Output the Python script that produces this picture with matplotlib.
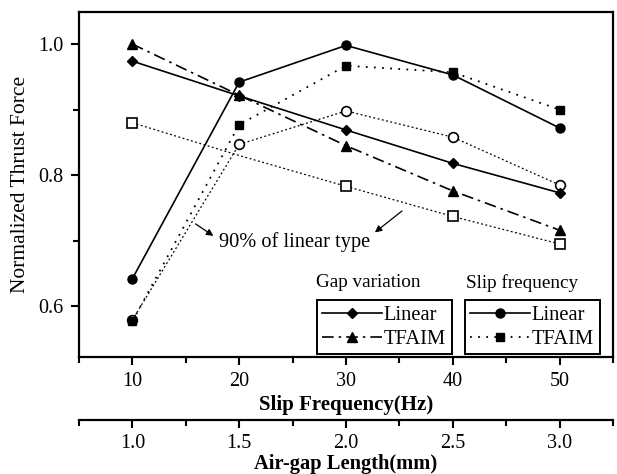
import matplotlib
matplotlib.use("Agg")
import matplotlib.pyplot as plt
from matplotlib.ticker import MultipleLocator

plt.rcParams['font.family'] = ['Liberation Serif', 'DejaVu Serif']
plt.rcParams['mathtext.fontset'] = 'stix'

slip_freq = [10, 20, 30, 40, 50]
gap_ticks = [1.0, 1.5, 2.0, 2.5, 3.0]

gap_linear = [0.974, 0.921, 0.869, 0.818, 0.773]
gap_tfaim = [1.000, 0.922, 0.845, 0.776, 0.716]
gap_linear90 = [0.880, 0.830, 0.783, 0.737, 0.695]

slip_linear = [0.642, 0.942, 0.998, 0.953, 0.872]
slip_tfaim = [0.577, 0.877, 0.967, 0.957, 0.900]
slip_linear90 = [0.579, 0.847, 0.898, 0.858, 0.785]

fig = plt.figure(figsize=(6.17, 4.74), dpi=100)
ax = fig.add_axes([0.128, 0.2475, 0.8655, 0.7272])

lw = 1.2
# 90% reference lines
ax.plot(slip_freq, gap_linear90, linestyle=(0, (1.5, 2)), color='black', lw=0.9,
        marker='s', mfc='white', mec='black', ms=6.5, mew=1.2, markevery=[0, 2, 3, 4])
ax.plot(slip_freq, slip_linear90, linestyle=(0, (1.5, 2)), color='black', lw=0.9,
        marker='o', mfc='white', mec='black', ms=7, mew=1.2)

l1, = ax.plot(slip_freq, gap_linear, '-', color='black', lw=lw, marker='D', ms=5.5, label='Linear')
l2, = ax.plot(slip_freq, gap_tfaim, linestyle=(0, (7, 3, 1.5, 3)), color='black', lw=lw,
              marker='^', ms=7, label='TFAIM')
l3, = ax.plot(slip_freq, slip_linear, '-', color='black', lw=lw, marker='o', ms=6.5, label='Linear')
l4, = ax.plot(slip_freq, slip_tfaim, linestyle=(0, (1, 3.5)), color='black', lw=1.3,
              marker='s', ms=6, label='TFAIM')

ax.set_xlim(5, 55)
ax.set_ylim(0.523, 1.049)
ax.set_xticks(slip_freq)
ax.xaxis.set_minor_locator(MultipleLocator(5))
ax.set_yticks([0.6, 0.8, 1.0])
ax.set_yticklabels(['0.6', '0.8', '1.0'])
ax.yaxis.set_minor_locator(MultipleLocator(0.1))
ax.tick_params(which='major', direction='out', length=6, width=1.5, labelsize=14.5, pad=5)
ax.tick_params(which='minor', direction='out', length=4, width=1.5)
ax.tick_params(axis='x', which='both', top=False)
ax.tick_params(axis='y', which='both', right=False)
for s in ax.spines.values():
    s.set_linewidth(1.6)

ax.set_xlabel('Slip Frequency(Hz)', fontsize=15, fontweight='bold', labelpad=3)
ax.set_ylabel('Normalized Thrust Force', fontsize=15.5, labelpad=6)

# secondary axis (air-gap length)
ax2 = ax.twiny()
ax2.set_xlim(0.75, 3.25)
ax2.set_xticks(gap_ticks)
ax2.set_xticklabels(['1.0', '1.5', '2.0', '2.5', '3.0'])
ax2.xaxis.set_minor_locator(MultipleLocator(0.25))
ax2.xaxis.set_ticks_position('bottom')
ax2.xaxis.set_label_position('bottom')
ax2.spines['bottom'].set_position(('outward', 45.6))
for k in ['top', 'left', 'right']:
    ax2.spines[k].set_visible(False)
ax2.spines['bottom'].set_linewidth(1.6)
ax2.tick_params(which='major', direction='out', length=6, width=1.5, labelsize=14.5, pad=4)
ax2.tick_params(which='minor', direction='out', length=4, width=1.5)
ax2.set_xlabel('Air-gap Length(mm)', fontsize=14.8, fontweight='bold', labelpad=1)

# annotation
ax.text(18.1, 0.698, '90% of linear type', fontsize=14.7, va='center', ha='left')
ax.annotate('', xy=(17.8, 0.705), xytext=(15.7, 0.728),
            arrowprops=dict(arrowstyle='-|>', color='black', lw=0.9, mutation_scale=10))
ax.annotate('', xy=(32.5, 0.710), xytext=(35.45, 0.748),
            arrowprops=dict(arrowstyle='-|>', color='black', lw=0.9, mutation_scale=10))

# legends
leg_kw = dict(fontsize=14.8, frameon=True, fancybox=False, edgecolor='black',
              handlelength=2.9, handletextpad=0.1, labelspacing=0.22,
              borderpad=0.25, borderaxespad=0, framealpha=1)
leg1 = ax.legend(handles=[l1, l2], loc='lower left', bbox_to_anchor=(0.446, 0.008, 0.252, 0.162),
                 mode='expand', **leg_kw)
leg1.get_frame().set_linewidth(1.4)
ax.add_artist(leg1)
leg2 = ax.legend(handles=[l3, l4], loc='lower left', bbox_to_anchor=(0.723, 0.008, 0.253, 0.162),
                 mode='expand', **leg_kw)
leg2.get_frame().set_linewidth(1.4)
ax.text(0.443, 0.215, 'Gap variation', transform=ax.transAxes, fontsize=13.8, va='center', ha='left')
ax.text(0.725, 0.215, 'Slip frequency', transform=ax.transAxes, fontsize=13.8, va='center', ha='left')

fig.savefig('out.png', dpi=100)
